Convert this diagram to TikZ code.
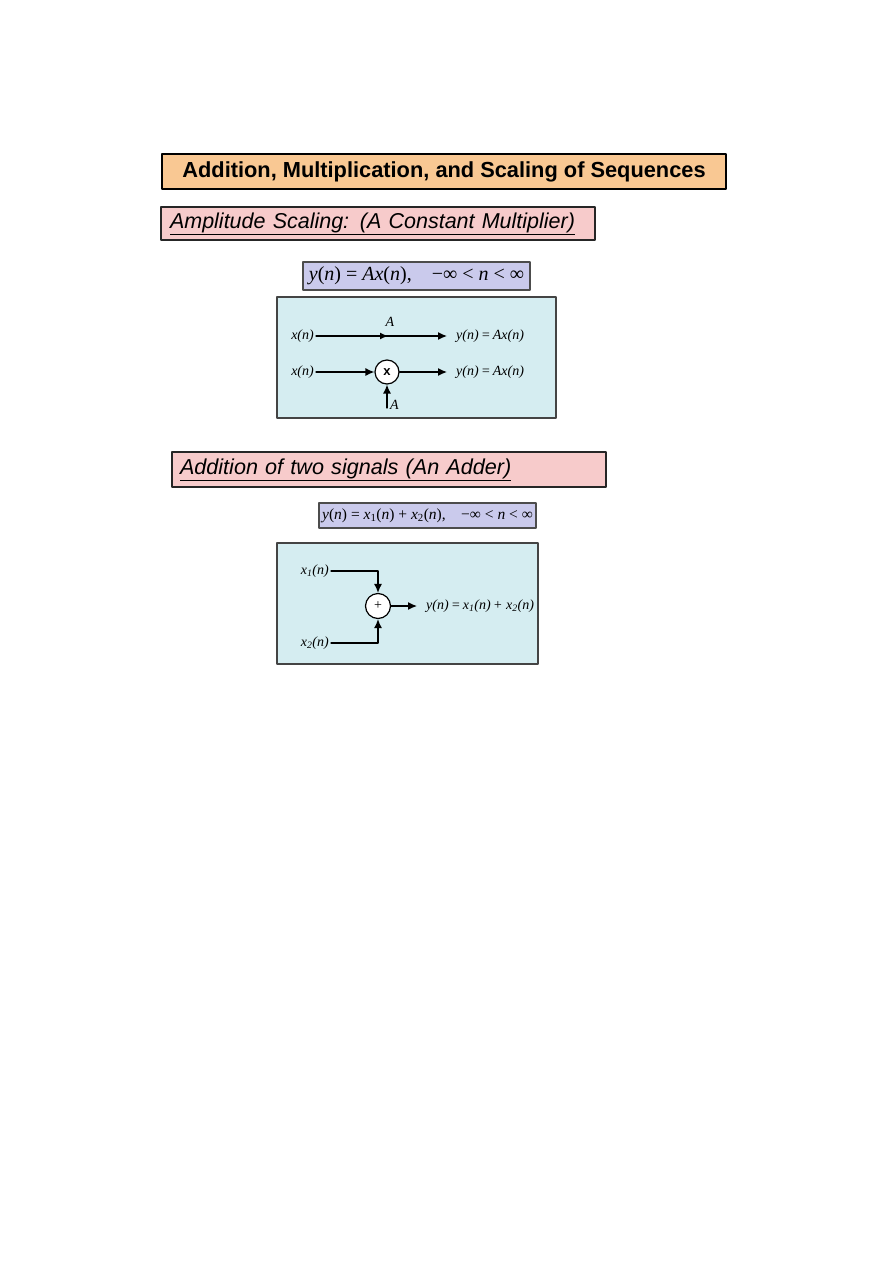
\documentclass[tikz,border=0pt]{standalone}
\usepackage{fontspec}
\setmainfont{Liberation Serif}
\setsansfont{Liberation Sans}
\usetikzlibrary{positioning,decorations.markings,arrows.meta}
\definecolor{titlefill}{HTML}{F9C893}
\definecolor{subfill}{HTML}{F7CBCB}
\definecolor{eqfill}{HTML}{CACAEC}
\definecolor{diagfill}{HTML}{D5EDF1}
\definecolor{diagline}{HTML}{444444}
\tikzset{
  titlebox/.style={draw=black, line width=2pt, fill=titlefill, inner sep=0pt,
    font=\sffamily\bfseries\fontsize{21.8}{26}\selectfont},
  subbox/.style={draw=black!85, line width=1.8pt, fill=subfill, inner sep=0pt,
    align=left, font=\sffamily\itshape\fontsize{21.5}{25}\selectfont},
  eqbox/.style={draw=black!70, line width=1.2pt, fill=eqfill, inner sep=0pt},
  diagbox/.style={draw=diagline, line width=1.5pt, fill=diagfill},
  lbl/.style={inner sep=2pt, font=\itshape\fontsize{14}{16}\selectfont},
  outlbl/.style={lbl, inner xsep=9pt},
  opnode/.style={circle, draw=black, line width=1.2pt, fill=white, minimum size=24pt, inner sep=0pt},
  sig/.style={->, line width=1.3pt},
  midarrow/.style={postaction={decorate}, decoration={markings,
    mark=at position 0.55 with {\arrow{Latex[length=8pt, width=7pt]}}}}
}
\begin{document}
\begin{tikzpicture}[x=1pt, y=-1pt, >={Latex[length=9pt, width=8pt]}, line join=round, line cap=round]
\useasboundingbox (0,0) rectangle (893,1263);
\fill[white] (0,0) rectangle (893,1263);
\node[titlebox, minimum width=564pt, minimum height=35pt] (title) at (444,171.5)
  {\raisebox{-1.5pt}{Addition, Multiplication, and Scaling of Sequences}};
\node[subbox, text width=416pt, inner xsep=9pt, minimum height=33pt] (scaling) at (378,223.5)
  {\underline{Amplitude Scaling: (A Constant Multiplier)}};
\node[eqbox, minimum width=227pt, minimum height=28pt, font=\fontsize{20}{24}\selectfont] (eqa) at (416.5,276)
  {\textit{y}(\textit{n}) = \textit{Ax}(\textit{n}),\quad −∞ < \textit{n} < ∞};
\draw[diagbox] (277,297) rectangle (556,418);
\node[lbl, anchor=east] (xa) at (316,336) {x(n)};
\node[outlbl, anchor=west] (ya) at (447,336) {y(n)\,=\,Ax(n)};
\draw[sig, midarrow] (xa) -- (ya);
\node[lbl] (ga) at (390,322) {A};
\node[lbl, anchor=east] (xb) at (316,372) {x(n)};
\node[opnode, font=\sffamily\bfseries\fontsize{13}{15}\selectfont] (mul) at (387,372) {x};
\node[outlbl, anchor=west] (yb) at (447,372) {y(n)\,=\,Ax(n)};
\coordinate (ab) at (387,408);
\draw[sig] (xb) -- (mul);
\draw[sig] (mul) -- (yb);
\draw[sig] (ab) -- (mul);
\node[lbl, anchor=west] (gb) at (388,405) {A};
\node[subbox, text width=418pt, inner xsep=8pt, minimum height=35pt, font=\sffamily\itshape\fontsize{21.6}{26}\selectfont] (adder) at (389,469.5)
  {\underline{Addition of two signals (An Adder)}};
\node[eqbox, minimum width=217pt, minimum height=25pt, font=\fontsize{15.5}{18}\selectfont] (eqb) at (427.5,515.5)
  {\textit{y}(\textit{n}) = \textit{x}\textsubscript{1}(\textit{n}) + \textit{x}\textsubscript{2}(\textit{n}),\quad −∞ < \textit{n} < ∞};
\draw[diagbox] (277,543) rectangle (538,664);
\node[lbl, anchor=east] (xc) at (331,571) {x\textsubscript{1}(n)};
\node[lbl, anchor=east] (xd) at (331,643) {x\textsubscript{2}(n)};
\node[opnode, minimum size=25pt, font=\fontsize{14}{16}\selectfont] (add) at (378,606) {+};
\node[outlbl, anchor=west] (yc) at (417,606) {y(n)\,=\,x\textsubscript{1}(n)\,+ x\textsubscript{2}(n)};
\draw[sig] (xc) -| (add);
\draw[sig] (xd) -| (add);
\draw[sig] (add) -- (yc);
\end{tikzpicture}
\end{document}
